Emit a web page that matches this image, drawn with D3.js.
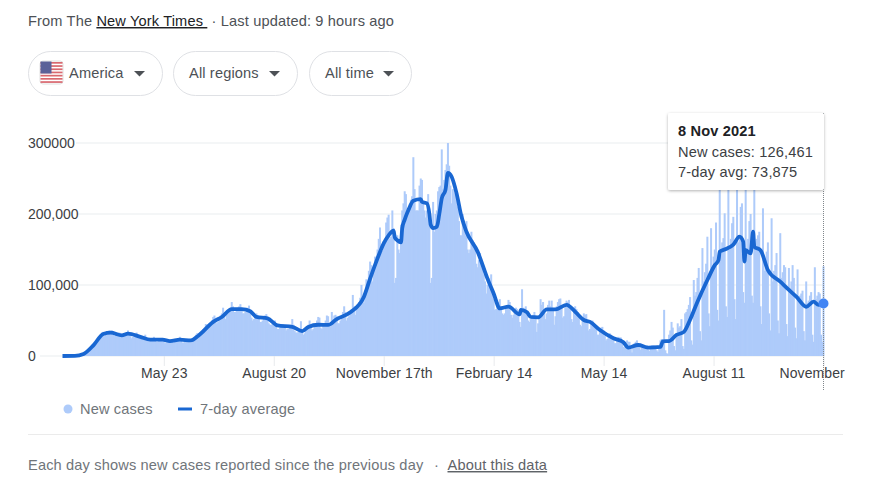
<!DOCTYPE html>
<html>
<head>
<meta charset="utf-8">
<script src="https://cdn.jsdelivr.net/npm/d3@7"></script>
<style>
html, body { margin: 0; padding: 0; background: #fff; }
svg { display: block; font-family: "Liberation Sans", Arial, sans-serif; font-size: 14.6px; letter-spacing: 0.15px; }
text { white-space: pre; }
</style>
</head>
<body>
<div id="chart"></div>
<script>
// one row per week, Monday first, starting 2 Mar 2020 (thousands of cases)
var newCases = [
    0,0,0,0,0,0,0,
    0,0,1,1,1,1,1,
    1,1,2,3,4,5,6,
    7,9,11,14,17,20,19,
    20,24,27,30,33,34,28,
    30,33,34,36,35,36,30,
    28,30,31,32,33,32,27,
    27,28,30,32,36,33,28,
    25,27,28,30,33,30,26,
    24,24,26,28,30,26,22,
    21,22,23,25,27,24,20,
    20,21,22,24,25,24,18,
    19,19,20,22,23,22,19,
    20,21,23,25,27,23,19,
    19,21,22,23,24,23,19,
    20,24,26,30,32,32,27,
    31,35,38,40,45,44,38,
    42,46,50,55,57,50,46,
    48,52,57,60,68,62,52,
    58,62,64,67,76,70,62,
    62,64,68,70,73,68,60,
    60,62,66,68,71,62,54,
    50,52,56,60,57,52,48,
    48,50,53,57,59,54,46,
    44,44,45,48,50,44,38,
    38,40,42,44,44,40,36,
    38,38,40,44,52,44,35,
    33,33,34,37,49,36,30,
    32,38,40,44,50,42,36,
    38,42,44,50,55,54,40,
    38,44,44,50,57,56,42,
    42,62,52,57,58,56,46,
    46,50,56,62,70,62,50,
    54,56,62,66,86,70,58,
    70,68,76,82,100,84,75,
    92,108,102,120,133,128,105,
    122,140,132,150,165,181,145,
    148,162,165,188,195,199,165,
    168,205,180,103,110,170,150,
    145,185,205,215,232,228,200,
    200,205,220,225,280,235,205,
    205,205,240,250,248,215,205,
    195,205,228,190,103,110,217,
    175,200,205,232,238,240,291,
    235,248,262,270,300,268,240,
    215,235,229,240,230,210,190,
    170,170,200,191,175,190,150,
    145,150,175,163,160,150,130,
    125,135,145,130,125,115,105,
    88,100,110,105,115,93,80,
    65,66,72,76,80,70,60,
    58,60,68,72,79,76,58,
    54,58,62,68,66,60,48,
    41,94,68,64,70,60,50,
    48,52,56,58,62,56,34,
    46,56,80,72,76,62,52,
    60,72,78,70,78,66,44,
    56,70,76,80,81,70,54,
    56,74,78,76,79,70,52,
    48,62,70,66,62,56,44,
    42,54,60,58,59,48,36,
    38,46,50,46,44,38,30,
    30,36,40,41,36,28,22,
    24,28,32,30,28,26,18,
    18,22,27,26,26,18,13,
    12,15,22,20,20,10,5,
    16,18,20,22,18,12,9,
    12,15,14,14,15,9,7,
    12,15,15,15,14,8,6,
    14,22,24,20,65,8,4,
    3,30,36,48,40,14,8,
    30,46,40,42,52,14,10,
    60,62,66,72,83,22,16,
    107,85,90,110,124,35,22,
    152,105,118,130,168,60,42,
    180,125,140,150,188,65,50,
    245,145,160,166,201,70,55,
    245,150,165,187,196,80,52,
    260,160,170,210,215,90,75,
    250,150,165,190,200,85,75,
    245,150,165,170,175,70,45,
    208,120,130,147,160,60,36,
    194,105,120,128,145,50,32,
    173,110,118,128,125,45,28,
    124,95,105,128,110,40,25,
    122,80,85,88,92,35,22,
    105,75,78,85,90,30,20,
    125,80,85,90,88,30,20,
    126.461
];

var avgDays = [0,10,17,25,33,39,48,53,63,71,81,87,95,104,110,122,129,137,145,152,157,166,174,186,194,199,207,
    215,222,233,244,249,255,260,264,268,269,271,274,275,277,280,284,290,291,295,297,298,300,303,305,307,310,312,315,319,323,327,
    336,344,349,354,361,370,371,376,379,385,392,399,408,415,422,427,435,446,454,458,466,474,484,486,491,497,
    503,508,514,522,528,531,532,537,543,548,551,552,553,557,559,560,565,571,581,588,594,602,608,612,616];
var avgValues = [0,0.2,2.8,15,31,32.8,29,31.4,27,23,23,21,23,22,28.6,48,55,66,66,63,55,53,43,41,35,41,44,
    43.7,52,61.5,83.5,109,137.5,158.7,170,176.5,167,163,160,180,192,205.6,218.7,221,217,215,200,185,180,182,200,222,234,258,252.5,229,196,175,
    147,109,88,67,69.5,58.7,65,61.5,55,54.5,65.7,65.7,72,62.4,50.7,48,36.6,24.9,19.3,11.7,15.5,11.7,12.7,20.7,21,29.6,
    34,51,76.5,107,128,135,147,150.7,157,168,161,133,149,144.6,175,154,149,121,104.6,93,83.5,69.4,76.5,72,73.875];

var xTickDays = [82, 171, 260, 349, 438, 527, 616];
var xTickLabels = ["May 23", "August 20", "November 17th", "February 14", "May 14", "August 11", "November 8th"];
var yTicks = [0, 100, 200, 300];
var yTickLabels = ["0", "100,000", "200,000", "300000"];
var filterLabels = ["America", "All regions", "All time"];
var filterLefts = [28, 173, 309];
var filterRights = [163, 298, 412];
var tooltipLines = ["New cases: 126,461", "7-day avg: 73,875"];

var svg = d3.select("#chart").append("svg").attr("width", 884).attr("height", 493);

var x = d3.scaleLinear().domain([0, 616]).range([62.5, 823.5]);
var y = d3.scaleLinear().domain([0, 300]).range([356, 143]);

// header line
var header = svg.append("text").attr("x", 28).attr("y", 26).attr("fill", "#4d5156");
header.append("tspan").text("From The ");
header.append("tspan").attr("fill", "#202124").attr("text-decoration", "underline").text("New York Times ");
header.append("tspan").text(" \u00b7 Last updated: 9 hours ago");

// filter pills
var pills = svg.selectAll("g.pill")
    .data(filterLabels)
    .enter().append("g")
        .attr("class", "pill");
pills.append("rect")
    .attr("x", function(d, i) { return filterLefts[i] + 0.5; })
    .attr("y", 51.5)
    .attr("width", function(d, i) { return filterRights[i] - filterLefts[i] - 1; })
    .attr("height", 44)
    .attr("rx", 22)
    .attr("fill", "#fff")
    .attr("stroke", "#dfe1e5");
pills.append("text")
    .attr("x", function(d, i) { return i == 0 ? 69 : filterLefts[i] + 16; })
    .attr("y", 78)
    .attr("fill", "#4d5156")
    .text(function(d) { return d; });
pills.append("path")
    .attr("d", function(d, i) {
        var cx = filterRights[i] - 23.5;
        return "M" + (cx - 5.5) + ",71L" + (cx + 5.5) + ",71L" + cx + ",76.5Z";
    })
    .attr("fill", "#4d5156");

// flag
var flag = svg.append("g");
flag.append("rect").attr("x", 40).attr("y", 61).attr("width", 23).attr("height", 23).attr("rx", 3).attr("fill", "#fff").attr("stroke", "#e0e0e0");
flag.selectAll("rect.stripe")
    .data(d3.range(7))
    .enter().append("rect")
        .attr("class", "stripe")
        .attr("x", 40.5)
        .attr("y", function(d) { return 62 + d * 3.2; })
        .attr("width", 22)
        .attr("height", 1.7)
        .attr("fill", "#d9686f");
flag.append("rect").attr("x", 40.5).attr("y", 61.5).attr("width", 11).attr("height", 12).attr("fill", "#5b6199");

// gridlines
svg.selectAll("line.grid")
    .data(yTicks)
    .enter().append("line")
        .attr("class", "grid")
        .attr("x1", function(d) { return d == 0 ? 40 : 76; })
        .attr("x2", 824)
        .attr("y1", function(d) { return y(d); })
        .attr("y2", function(d) { return y(d); })
        .attr("stroke", "#f1f3f4")
        .attr("stroke-width", 1.5);

// axes
var clip = svg.append("clipPath").attr("id", "xclip");
clip.append("rect").attr("x", 0).attr("y", -6).attr("width", 846).attr("height", 40);

var xAxis = svg.append("g")
    .attr("transform", "translate(0,356)")
    .attr("clip-path", "url(#xclip)")
    .call(d3.axisBottom(x)
        .tickValues(xTickDays)
        .tickSize(10)
        .tickPadding(2)
        .tickFormat(function(d, i) { return xTickLabels[i]; }));
xAxis.select(".domain").remove();
xAxis.selectAll("line").attr("stroke", "#e8eaed");
xAxis.selectAll("text")
    .attr("fill", "#3c4043")
    .style("font-size", "14px")
    .style("letter-spacing", "0.1px")
    .style("font-family", "inherit");

var yAxis = svg.append("g")
    .attr("transform", "translate(28,0)")
    .call(d3.axisLeft(y)
        .tickValues(yTicks)
        .tickSize(0)
        .tickPadding(0)
        .tickFormat(function(d, i) { return yTickLabels[i]; }));
yAxis.select(".domain").remove();
yAxis.selectAll("text")
    .attr("text-anchor", "start")
    .attr("fill", "#3c4043")
    .style("font-size", "14px")
    .style("letter-spacing", "0")
    .style("font-family", "inherit");

// bars
svg.append("g").selectAll("rect")
    .data(newCases)
    .enter().append("rect")
        .attr("x", function(d, i) { return x(i) - 1; })
        .attr("y", function(d) { return y(d); })
        .attr("width", 2)
        .attr("height", function(d) { return y(0) - y(d); })
        .attr("fill", "#aecbfa");

// dotted hover line
svg.append("line")
    .attr("x1", x(616)).attr("x2", x(616))
    .attr("y1", 113).attr("y2", 391)
    .attr("stroke", "#80868b")
    .attr("stroke-dasharray", "1,1");

// 7-day average
var line = d3.line()
    .curve(d3.curveMonotoneX)
    .x(function(d) { return x(d); })
    .y(function(d, i) { return y(avgValues[i]); });
svg.append("path")
    .attr("d", line(avgDays))
    .attr("fill", "none")
    .attr("stroke", "#1967d2")
    .attr("stroke-width", 3.8)
    .attr("stroke-linejoin", "round");

svg.append("circle")
    .attr("cx", x(616))
    .attr("cy", y(avgValues[avgValues.length - 1]))
    .attr("r", 5)
    .attr("fill", "#4285f4");

// tooltip
var shadow = svg.append("filter").attr("id", "shadow").attr("x", "-10%").attr("y", "-10%").attr("width", "120%").attr("height", "125%");
shadow.append("feDropShadow").attr("dx", 0).attr("dy", 1).attr("stdDeviation", 1.5).attr("flood-color", "#000").attr("flood-opacity", 0.3);
svg.append("rect")
    .attr("x", 668).attr("y", 113)
    .attr("width", 156).attr("height", 77)
    .attr("rx", 2)
    .attr("fill", "#fff")
    .attr("filter", "url(#shadow)");
svg.append("text")
    .attr("x", 678).attr("y", 136)
    .attr("font-weight", "bold")
    .attr("fill", "#202124")
    .text("8 Nov 2021");
svg.selectAll("text.tip")
    .data(tooltipLines)
    .enter().append("text")
        .attr("class", "tip")
        .attr("x", 678)
        .attr("y", function(d, i) { return 157 + i * 20; })
        .attr("fill", "#3c4043")
        .text(function(d) { return d; });

// legend
svg.append("circle").attr("cx", 68).attr("cy", 409).attr("r", 4.5).attr("fill", "#aecbfa");
svg.append("text").attr("x", 80).attr("y", 414).attr("fill", "#70757a").text("New cases");
svg.append("line").attr("x1", 178).attr("x2", 192).attr("y1", 409).attr("y2", 409).attr("stroke", "#1967d2").attr("stroke-width", 3);
svg.append("text").attr("x", 200).attr("y", 414).attr("fill", "#70757a").text("7-day average");

// footer
svg.append("line").attr("x1", 28).attr("x2", 843).attr("y1", 434.5).attr("y2", 434.5).attr("stroke", "#ebebeb");
svg.append("text").attr("x", 28).attr("y", 470).attr("fill", "#70757a").text("Each day shows new cases reported since the previous day");
svg.append("text").attr("x", 434).attr("y", 470).attr("fill", "#70757a").text("\u00b7");
svg.append("text").attr("x", 447.5).attr("y", 470).attr("fill", "#5f6368").attr("text-decoration", "underline").text("About this data");
</script>
</body>
</html>
